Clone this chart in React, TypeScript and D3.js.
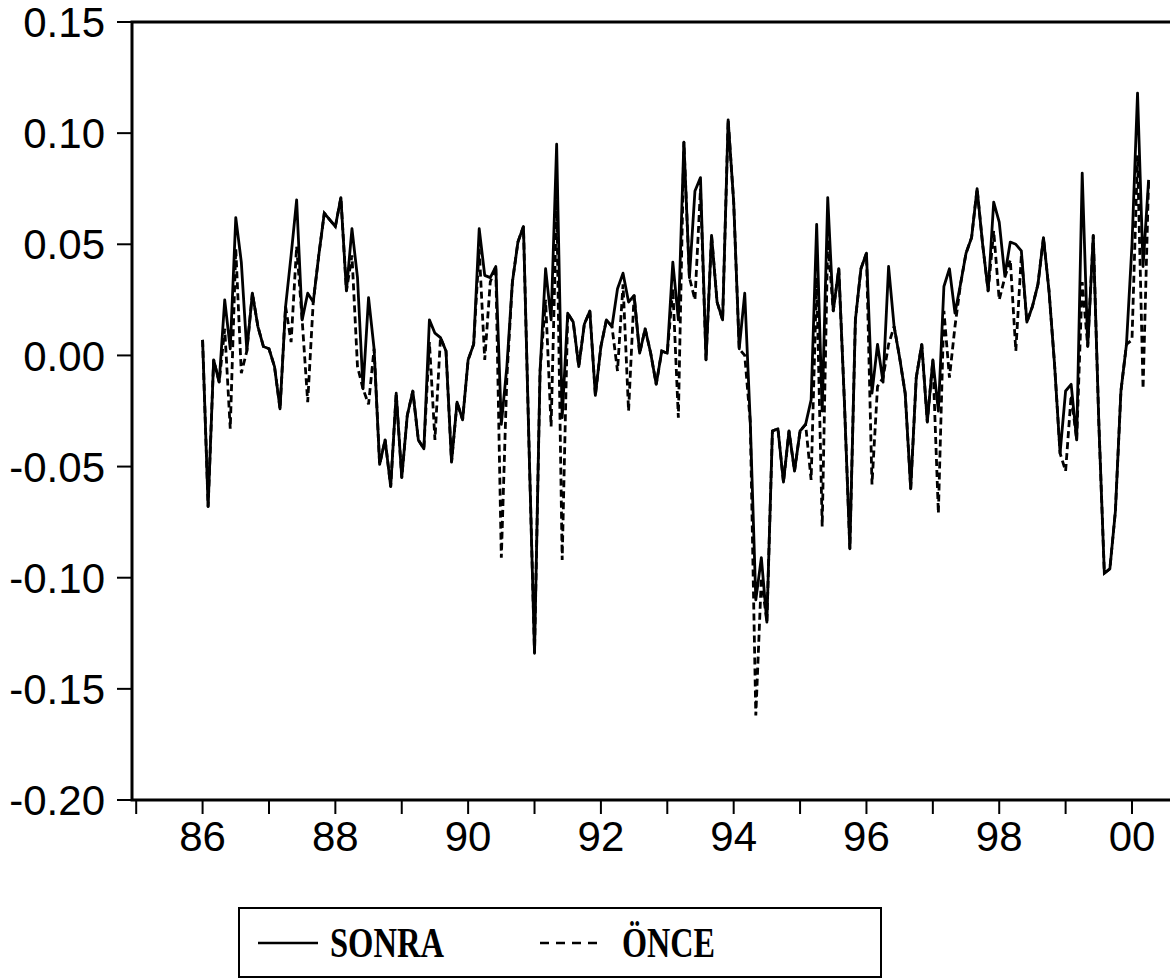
import React from 'react';
import * as d3 from 'd3';

// monthly observations, first one is 1986:01
const SERIES_START = 1986;
const sonra = [
  0.007, -0.068, -0.002, -0.012, 0.025, 0.003, 0.062, 0.042, 0.002, 0.028, 0.013, 0.004,
  0.003, -0.005, -0.024, 0.022, 0.045, 0.070, 0.016, 0.028, 0.024, 0.045, 0.064, 0.061,
  0.058, 0.071, 0.029, 0.057, 0.035, -0.015, 0.026, 0.003, -0.049, -0.038, -0.059, -0.017,
  -0.055, -0.027, -0.016, -0.038, -0.042, 0.016, 0.010, 0.008, 0.002, -0.048, -0.021, -0.029,
  -0.002, 0.005, 0.057, 0.036, 0.035, 0.040, -0.031, -0.005, 0.033, 0.051, 0.058, -0.040,
  -0.134, -0.007, 0.039, 0.016, 0.095, -0.028, 0.019, 0.015, -0.005, 0.014, 0.020, -0.018,
  0.004, 0.016, 0.013, 0.030, 0.037, 0.024, 0.027, 0.001, 0.012, 0.001, -0.013, 0.002,
  0.001, 0.042, 0.016, 0.096, 0.035, 0.074, 0.080, -0.002, 0.054, 0.024, 0.016, 0.106,
  0.069, 0.003, 0.028, -0.030, -0.110, -0.091, -0.120, -0.034, -0.033, -0.057, -0.034, -0.052,
  -0.034, -0.031, -0.020, 0.059, -0.025, 0.071, 0.020, 0.039, -0.020, -0.087, 0.016, 0.039,
  0.046, -0.017, 0.005, -0.012, 0.040, 0.013, -0.001, -0.017, -0.060, -0.010, 0.005, -0.030,
  -0.002, -0.025, 0.031, 0.039, 0.019, 0.032, 0.046, 0.053, 0.075, 0.050, 0.029, 0.069,
  0.060, 0.036, 0.051, 0.050, 0.047, 0.015, 0.022, 0.032, 0.053, 0.029, -0.004, -0.044,
  -0.016, -0.013, -0.038, 0.082, 0.004, 0.054, -0.030, -0.098, -0.096, -0.070, -0.016, 0.005,
  0.050, 0.118, 0.040, 0.079,
];
const once = [
  0.007, -0.068, -0.002, -0.012, 0.012, -0.033, 0.048, -0.008, 0.002, 0.028, 0.013, 0.004,
  0.003, -0.005, -0.024, 0.022, 0.006, 0.049, 0.016, -0.021, 0.024, 0.045, 0.064, 0.061,
  0.058, 0.071, 0.029, 0.045, -0.005, -0.015, -0.022, 0.003, -0.049, -0.038, -0.059, -0.017,
  -0.055, -0.027, -0.016, -0.038, -0.042, 0.006, -0.038, 0.008, 0.002, -0.048, -0.021, -0.029,
  -0.002, 0.005, 0.048, -0.002, 0.033, 0.040, -0.091, -0.010, 0.033, 0.051, 0.058, -0.040,
  -0.134, -0.007, 0.025, -0.032, 0.070, -0.092, 0.019, 0.015, -0.005, 0.014, 0.020, -0.018,
  0.004, 0.016, 0.013, -0.007, 0.032, -0.025, 0.027, 0.001, 0.012, 0.001, -0.013, 0.002,
  0.001, 0.030, -0.028, 0.096, 0.035, 0.025, 0.075, -0.002, 0.054, 0.024, 0.016, 0.106,
  0.069, 0.003, 0.000, -0.030, -0.162, -0.100, -0.120, -0.034, -0.033, -0.057, -0.034, -0.052,
  -0.034, -0.031, -0.056, 0.035, -0.077, 0.052, 0.020, 0.039, -0.020, -0.087, 0.016, 0.039,
  0.046, -0.058, -0.014, -0.010, 0.005, 0.013, -0.001, -0.017, -0.060, -0.010, 0.005, -0.030,
  -0.002, -0.071, 0.020, -0.010, 0.013, 0.032, 0.046, 0.053, 0.075, 0.050, 0.029, 0.056,
  0.025, 0.035, 0.043, 0.002, 0.045, 0.015, 0.022, 0.032, 0.053, 0.029, -0.004, -0.044,
  -0.052, -0.018, -0.038, 0.033, 0.004, 0.054, -0.030, -0.098, -0.096, -0.070, -0.016, 0.005,
  0.007, 0.090, -0.015, 0.079,
];

const yTicks = [0.15, 0.1, 0.05, 0, -0.05, -0.1, -0.15, -0.2];
const yearTicks = d3.range(1985, 2001);
const yearLabels = ['86', '88', '90', '92', '94', '96', '98', '00'];
const legendItems = ['SONRA', 'ÖNCE'];

const W = 1170;
const H = 979;
const plot = { left: 132, top: 22, bottom: 800, right: 1175 };

const App = () => {
  // month index 0 = first observation (Jan of SERIES_START)
  const x = d3.scaleLinear().domain([-12, 168]).range([136.2, 1132]);
  const y = d3.scaleLinear().domain([-0.2, 0.15]).range([plot.bottom, plot.top]);
  const line = d3.line<number>()
    .x((_, i) => x(i))
    .y(d => y(d));

  const yearPos = (yr: number) => x((yr - SERIES_START) * 12);
  const axisFont = '"Liberation Sans", Arial, sans-serif';
  const legendFont = '"Liberation Serif", "Times New Roman", serif';

  return (
    <svg width={W} height={H} style={{ position: 'absolute', left: 0, top: 0, background: '#fff' }}>
      <rect x={0} y={0} width={W} height={H} fill="#fff" />

      {/* series */}
      <path d={line(once) || ''} fill="none" stroke="#000" strokeWidth={2.8} strokeDasharray="7,4" />
      <path d={line(sonra) || ''} fill="none" stroke="#000" strokeWidth={2.8} strokeLinejoin="round" />

      {/* frame */}
      <path
        d={`M${plot.right},${plot.top}H${plot.left}V${plot.bottom}H${plot.right}`}
        fill="none" stroke="#000" strokeWidth={3} />

      {/* y axis */}
      {yTicks.map(t => (
        <g key={t}>
          <line x1={117} x2={plot.left} y1={y(t)} y2={y(t)} stroke="#000" strokeWidth={2} />
          <text x={105} y={y(t)} dy="0.36em" textAnchor="end" fontFamily={axisFont} fontSize={42}>
            {t.toFixed(2)}
          </text>
        </g>
      ))}

      {/* x axis */}
      {yearTicks.map(yr => (
        <line key={yr} x1={yearPos(yr)} x2={yearPos(yr)} y1={plot.bottom} y2={814} stroke="#000" strokeWidth={2} />
      ))}
      {yearLabels.map(l => {
        const yr = l === '00' ? 2000 : 1900 + Number(l);
        return (
          <text key={l} x={yearPos(yr)} y={851} textAnchor="middle" fontFamily={axisFont} fontSize={42}>
            {l}
          </text>
        );
      })}

      {/* legend */}
      <rect x={239} y={908} width={642} height={69} fill="#fff" stroke="#000" strokeWidth={2} />
      <line x1={258} x2={318} y1={943} y2={943} stroke="#000" strokeWidth={2.5} />
      <text x={330} y={957} fontFamily={legendFont} fontWeight="bold" fontSize={42}
        textLength={114} lengthAdjust="spacingAndGlyphs">{legendItems[0]}</text>
      <line x1={540} x2={600} y1={943} y2={943} stroke="#000" strokeWidth={2.5} strokeDasharray="9,7" />
      <text x={622} y={957} fontFamily={legendFont} fontWeight="bold" fontSize={42}
        textLength={93} lengthAdjust="spacingAndGlyphs">{legendItems[1]}</text>
    </svg>
  );
};

export default App;
